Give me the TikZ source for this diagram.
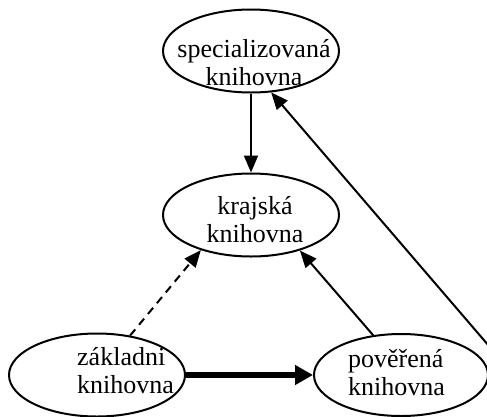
\documentclass[tikz,border=0pt]{standalone}
\usepackage{fontspec}
\setmainfont{Liberation Serif}
\usetikzlibrary{shapes.geometric,arrows.meta,calc}
\tikzset{
  lib/.style={draw,ellipse,line width=2pt,minimum width=176pt,minimum height=83pt,inner sep=0pt},
  libtext/.style={inner sep=0pt,font=\fontsize{26}{28}\selectfont},
  arr/.style={line width=2pt,-{Triangle[length=17pt,width=14pt]}},
  thickarr/.style={line width=6pt,-{Triangle[length=18pt,width=19pt]}}
}
\begin{document}
\begin{tikzpicture}[x=1pt,y=-1pt]
        \useasboundingbox (0,0) rectangle (487,416);
        % ellipses
        \node[lib] at (251,51) (spec) {};
        \node[lib] at (251,215) (kraj) {};
        \node[lib] at (97,375) (zakl) {};
        \node[lib,minimum width=174pt,minimum height=82pt] at (401,375) (pov) {};

        % texts
        \node[libtext,anchor=base,align=center] at (254,85) (specT) {specializovaná\\knihovna};
        \node[libtext,anchor=base,align=center] at (255,242) (krajT) {krajská\\knihovna};
        \node[libtext,anchor=base west,align=left] at (77,393) (zaklT) {základni\\knihovna};
        \node[libtext,anchor=base west,align=left] at (348,395) (povT) {pověřená\\knihovna};

        % arrows
        \draw[arr] (spec) -- (kraj);
        \draw[arr] ($(pov.east)+(6,-22)$) -- (spec.-64);
        \draw[arr] (pov.125) -- (kraj.-36);
        \draw[arr,dash pattern=on 8pt off 6pt] (zakl.50) -- (kraj.215);
        \draw[thickarr] (zakl.east) -- (pov.west);
\end{tikzpicture}
\end{document}
